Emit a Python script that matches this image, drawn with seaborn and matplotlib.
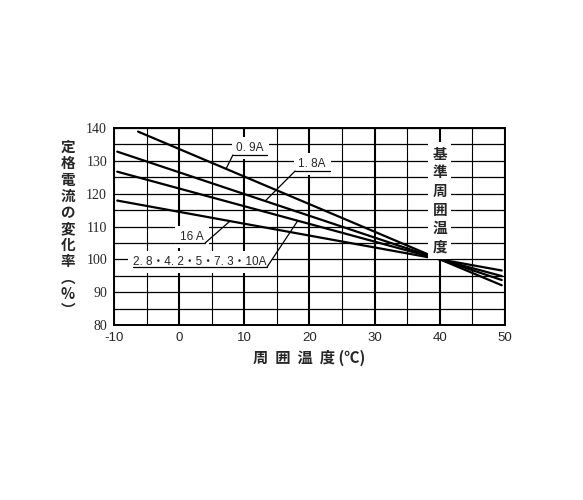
import numpy as np
import pandas as pd
import matplotlib
matplotlib.use('Agg')
import matplotlib.pyplot as plt
import seaborn as sns
from matplotlib.ticker import MultipleLocator

# 周囲温度 (℃) ごとの定格電流の変化率 (%)
temps_09 = [-6.3, 40, 49.5]
rate_09 = [138.9, 100, 92.1]
temps_other = [-9.5, 40, 49.5]
rate_18 = [132.8, 100, 93.7]
rate_28_10 = [126.7, 100, 94.9]
rate_16 = [117.9, 100, 96.6]

series_names = ['0. 9A', '1. 8A', '2. 8・4. 2・5・7. 3・10A', '16 A']

x_ticks = [-10, 0, 10, 20, 30, 40, 50]
y_ticks = [80, 90, 100, 110, 120, 130, 140]

# label placement (text centre, underline, leader end on the line)
anno_x = [10.9, 20.4, 3.2, 2.0]
anno_y = [133.9, 129.0, 99.2, 106.8]
under_x0 = [8.25, 17.8, -7.1, -0.6]
under_x1 = [13.5, 23.1, 13.5, 4.0]
under_y = [131.8, 126.9, 97.7, 105.0]
leader_left = [True, True, False, False]
leader_to_x = [7.2, 13.2, 18.2, 7.8]

sns.set_theme(style='white')
plt.rcParams['font.family'] = ['Noto Sans CJK JP', 'DejaVu Sans']

rows = []
all_x = [temps_09, temps_other, temps_other, temps_other]
all_y = [rate_09, rate_18, rate_28_10, rate_16]
for name, xs, ys in zip(series_names, all_x, all_y):
    for x, y in zip(xs, ys):
        rows.append({'series': name, 'temp': x, 'rate': y})
df = pd.DataFrame(rows)

fig = plt.figure(figsize=(5.83, 5.0), dpi=100)
ax = fig.add_axes([0.1955, 0.35, 0.6707, 0.394])

sns.lineplot(data=df, x='temp', y='rate', hue='series',
             palette=['black'] * 4, legend=False, linewidth=1.6,
             estimator=None, sort=False, ax=ax, zorder=3)

ax.set_xlim(-10, 50)
ax.set_ylim(80, 140)
ax.xaxis.set_major_locator(MultipleLocator(10))
ax.xaxis.set_minor_locator(MultipleLocator(5))
ax.yaxis.set_major_locator(MultipleLocator(10))
ax.yaxis.set_minor_locator(MultipleLocator(5))
ax.set_axisbelow(True)
ax.grid(which='major', axis='x', color='black', linewidth=1.5)
ax.grid(which='minor', axis='x', color='black', linewidth=0.8)
ax.grid(which='both', axis='y', color='black', linewidth=0.9)
ax.tick_params(which='both', length=0)
ax.tick_params(axis='y', pad=5)
ax.tick_params(axis='x', pad=5)
for sp in ax.spines.values():
    sp.set_visible(True)
    sp.set_color('black')
    sp.set_linewidth(1.4)

ax.set_xticks(x_ticks)
ax.set_yticks(y_ticks)
ax.set_xticklabels([str(t) for t in x_ticks],
                   fontfamily=['Liberation Sans', 'DejaVu Sans'], fontsize=9.5)
ax.set_yticklabels([str(t) for t in y_ticks],
                   fontfamily=['Liberation Serif', 'DejaVu Serif'], fontsize=10)
ax.set_xlabel('')
ax.set_ylabel('')

# series labels with underline and leader line
label_font = ['Liberation Sans', 'Noto Sans CJK JP']
for i, name in enumerate(series_names):
    ax.text(anno_x[i], anno_y[i], name, ha='center', va='center',
            fontsize=8.5, family=label_font, zorder=5,
            bbox=dict(facecolor='white', edgecolor='none', pad=3.5))
    ax.plot([under_x0[i], under_x1[i]], [under_y[i], under_y[i]],
            color='black', linewidth=0.9, zorder=6)
    sx = under_x0[i] if leader_left[i] else under_x1[i]
    tx = leader_to_x[i]
    ty = np.interp(tx, all_x[i], all_y[i])
    ax.plot([sx, tx], [under_y[i], ty], color='black', linewidth=0.9, zorder=6)

# reference temperature label
ax.text(40, 118, '\n'.join('基準周囲温度'), ha='center', va='center',
        fontsize=10.5, fontweight='bold', linespacing=1.2, zorder=5,
        bbox=dict(facecolor='white', edgecolor='none', pad=3))

ax.text(-0.118, 0.49, '\n'.join(['定', '格', '電', '流', 'の', '変', '化', '率', '︵', '%', '︶']),
        transform=ax.transAxes, ha='center', va='center', fontsize=10.5,
        fontweight='bold', linespacing=1.02)

fig.text(0.531, 0.284, '周  囲  温  度 (℃)', ha='center', va='center',
         fontsize=11, fontweight='bold')

fig.savefig('out.png', dpi=100, facecolor='white')
